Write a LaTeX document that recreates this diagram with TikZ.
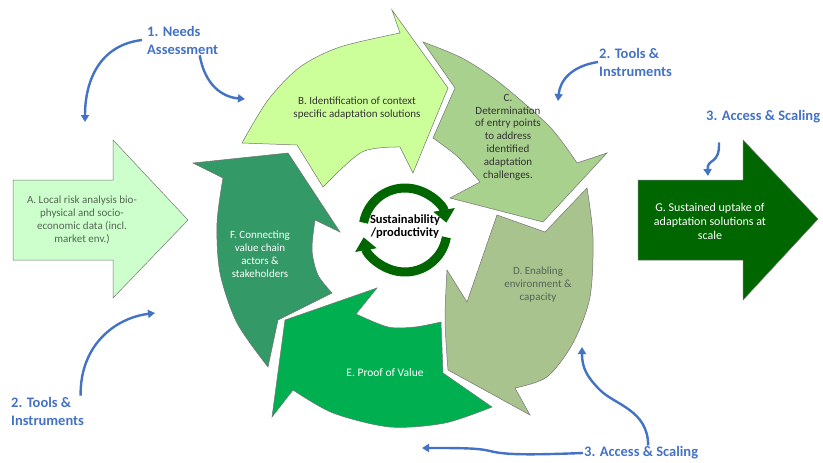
\documentclass[tikz,border=0pt]{standalone}
\usepackage{fontspec}
\setmainfont{Carlito}
\usetikzlibrary{arrows.meta, positioning}

\definecolor{phaseblue}{HTML}{4472C4}
\definecolor{stepA}{HTML}{CCFFCC}
\definecolor{stepB}{HTML}{CCFF99}
\definecolor{stepC}{HTML}{A9D18E}
\definecolor{stepD}{HTML}{A9C38F}
\definecolor{stepE}{HTML}{00B050}
\definecolor{stepF}{HTML}{339966}
\definecolor{stepG}{HTML}{006600}
\definecolor{ringgreen}{HTML}{006600}
\definecolor{softtext}{HTML}{556655}

\tikzset{
  cyclepart/.style={draw=black!55, line width=0.5pt, line join=miter},
  steptext/.style={font=\fontsize{11}{13}\selectfont, align=center, inner sep=0pt},
  phase/.style={font=\bfseries\fontsize{14.5}{18}\selectfont, text=phaseblue, align=left, anchor=west, inner sep=1pt},
  phasearrow/.style={draw=phaseblue, line width=2.4pt, -{Triangle[length=7pt,width=8pt]}},
  ringarrow/.style={draw=ringgreen, line width=9pt, -{Triangle[length=13pt,width=21pt]}},
}

\begin{document}
\begin{tikzpicture}[x=1pt,y=-1pt]
    \useasboundingbox (0,0) rectangle (823,463);

    % A arrow (left)
    \filldraw[cyclepart, fill=stepA] (13,180) -- (113,180) -- (113,140) -- (188,220) -- (113,298) -- (113,260) -- (13,260) -- cycle;
    \node[steptext, text=softtext] (locrisk) at (82,220) {A. Local risk analysis bio-\\physical and socio-\\economic data (incl.\\market env.)};

    % B arrow
    \filldraw[cyclepart, fill=stepB] (242,143) -- plot[smooth] coordinates {(242,143) (268,100) (300,67) (340,47) (400,33)}
        -- (392,10) -- (448,88) -- (413,173) -- (400,147)
        -- plot[smooth] coordinates {(400,147) (362,152) (323,187)} -- (297,145) -- cycle;
    \node[steptext, text=black!80] (identify) at (357,108) {B. Identification of context\\specific adaptation solutions};

    % C arrow
    \filldraw[cyclepart, fill=stepC] (423,42) -- plot[smooth] coordinates {(423,42) (462,58) (500,83) (550,127) (577,163)}
        -- (607,153) -- (543,222) -- (450,198) -- (480,182)
        -- plot[smooth] coordinates {(480,182) (458,157) (433,138)} -- (455,88) -- cycle;
    \node[steptext, text=black!80, font=\fontsize{11}{12.8}\selectfont] (entry) at (508,137) {C.\\Determination\\of entry points\\to address\\identified\\adaptation\\challenges.};

    % D arrow
    \filldraw[cyclepart, fill=stepD] (497,215) -- (545,232) -- (587,188)
        -- plot[smooth] coordinates {(587,188) (593,237) (590,297) (573,343) (547,377) (515,388)}
        -- (530,415) -- (448,370) -- plot[smooth] coordinates {(448,370) (445,320) (447,270)} -- (467,302) -- cycle;
    \node[steptext, text=softtext] (enabling) at (538,285) {D. Enabling\\environment \&\\capacity};

    % E arrow
    \filldraw[cyclepart, fill=stepE] (285,320) -- (377,288) -- (356,314)
        -- plot[smooth] coordinates {(356,314) (388,327) (415,327) (441,322)} -- (443,373) -- (492,407)
        -- plot[smooth] coordinates {(492,407) (445,423) (390,427) (333,413) (293,390)} -- (272,417) -- cycle;
    \node[steptext, text=white, font=\fontsize{11.5}{13}\selectfont] (proof) at (385,373) {E. Proof of Value};

    % F arrow
    \filldraw[cyclepart, fill=stepF] (288,153) -- (340,232) -- (315,220)
        -- plot[smooth] coordinates {(315,220) (312,250) (318,275) (332,293)} -- (278,320) -- (268,367)
        -- plot[smooth] coordinates {(268,367) (237,323) (220,273) (217,223) (223,178)} -- (193,163) -- cycle;
    \node[steptext, text=white] (connect) at (260,254) {F. Connecting\\value chain\\actors \&\\stakeholders};

    % G arrow (right)
    \filldraw[cyclepart, fill=stepG] (638,180) -- (743,180) -- (743,140) -- (818,219) -- (743,300) -- (743,260) -- (638,260) -- cycle;
    \node[steptext, text=white, font=\fontsize{12}{14}\selectfont] (uptake) at (710,221) {G. Sustained uptake of\\adaptation solutions at\\scale};

    % centre
    \coordinate (hub) at (405,230);
    \draw[ringarrow] ([shift={(190:42)}]hub) arc[start angle=190, end angle=350, radius=42];
    \draw[ringarrow] ([shift={(10:42)}]hub) arc[start angle=10, end angle=170, radius=42];
    \node[font=\bfseries\fontsize{12.5}{13}\selectfont, align=center, inner sep=0pt] (sust) at (405,227) {Sustainability\\/productivity};

    % phase labels
    \node[phase] (needs) at (146,40) {1. Needs\\Assessment};
    \node[phase] (toolsleft) at (10,411) {2. Tools \&\\Instruments};
    \node[phase] (toolsright) at (598,62) {2. Tools \&\\Instruments};
    \node[phase] (accesstop) at (705,117) {3. Access \& Scaling};
    \node[phase] (accessbottom) at (583,453) {3. Access \& Scaling};

    \coordinate (needsA) at (85,122);
    \coordinate (needsB) at (245,99);
    \coordinate (toolsA) at (155,313);
    \coordinate (toolsC) at (558,101);
    \coordinate (accessG) at (708,176);
    \coordinate (accessD) at (582,347);
    \coordinate (accessE) at (422,448);

    % blue arrows
    \draw[phasearrow] ([xshift=-4pt]needs.west) .. controls (100,45) and (85,80) .. (needsA);
    \draw[phasearrow] ([xshift=17pt]needs.south) .. controls (205,85) and (222,97) .. (needsB);
    \draw[phasearrow] ([xshift=33pt]toolsleft.north) .. controls (80,345) and (115,318) .. (toolsA);
    \draw[phasearrow] (toolsright.west) .. controls (572,66) and (560,80) .. (toolsC);
    \draw[phasearrow, shorten <=18pt] ([xshift=-45pt]accesstop.south) .. controls (720,165) and (707,158) .. (accessG);
    \draw[phasearrow] ([xshift=7pt]accessbottom.north) .. controls (648,410) and (615,405) .. (600,390)
        .. controls (587,377) and (582,368) .. (accessD);
    \draw[phasearrow] (accessbottom.west) .. controls (530,455) and (505,455) .. (490,451)
        .. controls (478,448) and (460,448) .. (accessE);
\end{tikzpicture}
\end{document}
